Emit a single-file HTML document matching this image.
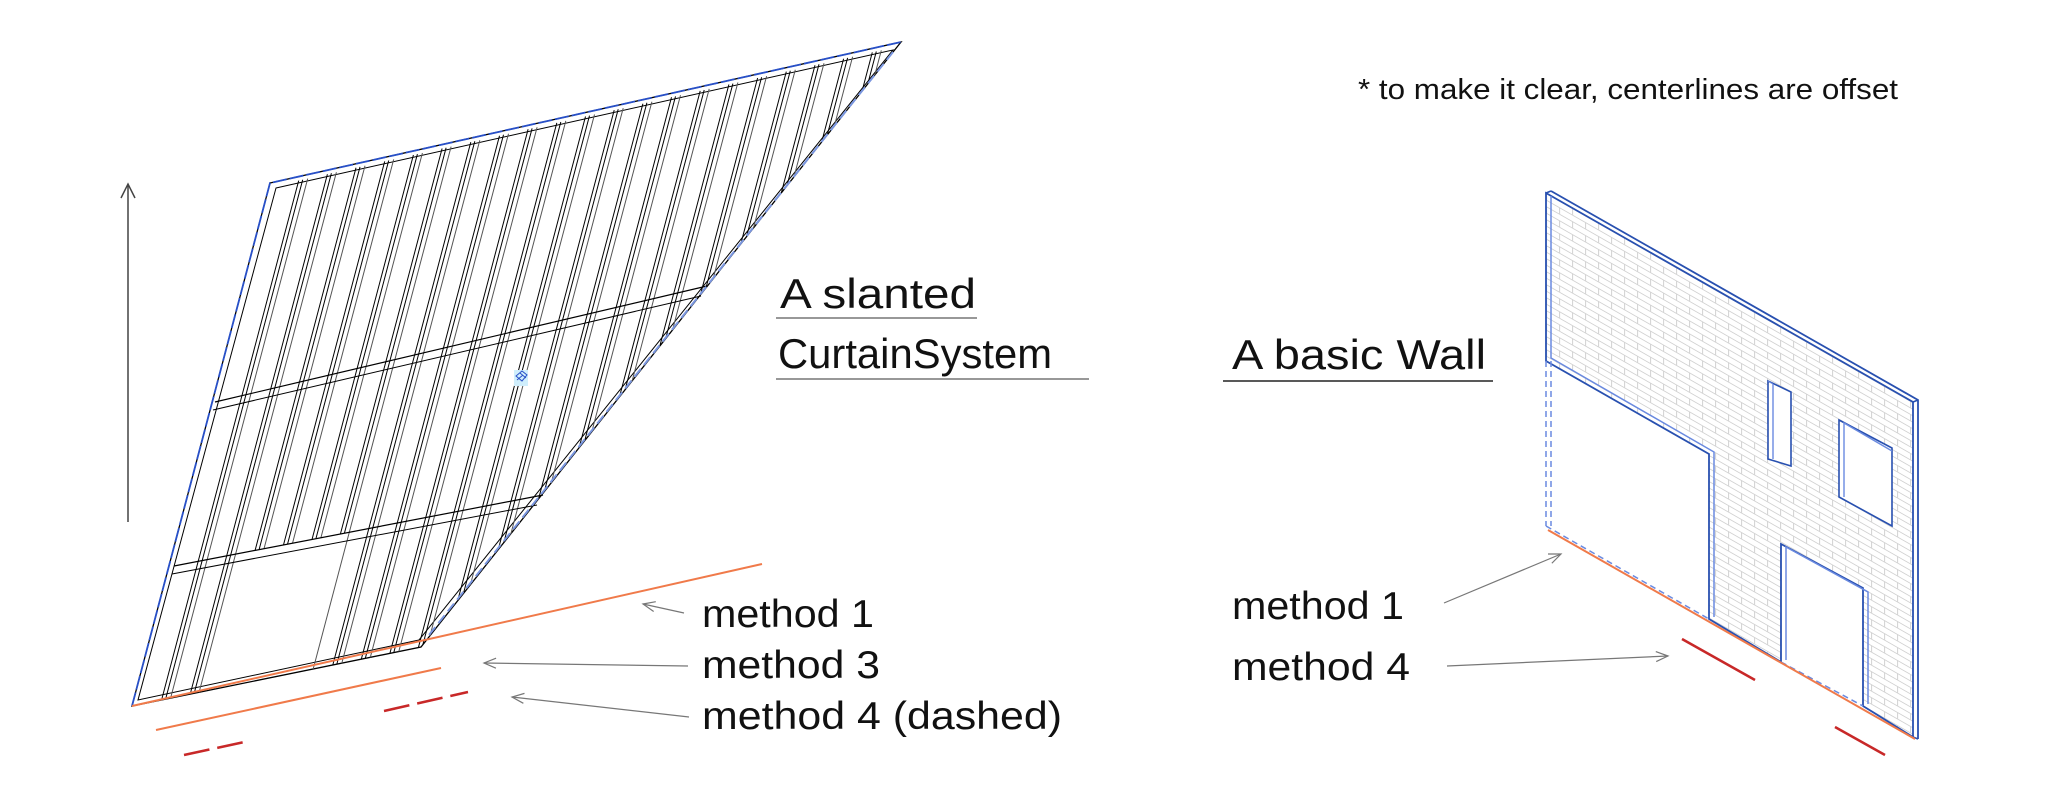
<!DOCTYPE html>
<html><head><meta charset="utf-8"><style>
html,body{margin:0;padding:0;background:#fff;}
body{width:2062px;height:810px;overflow:hidden;position:relative;font-family:"Liberation Sans",sans-serif;}
svg{position:absolute;left:0;top:0;}
</style></head><body>
<svg id="s" width="2062" height="810" viewBox="0 0 2062 810" xmlns="http://www.w3.org/2000/svg">
<defs>
<pattern id="brick" patternUnits="userSpaceOnUse" width="26" height="13" patternTransform="translate(1546,193) skewY(29.7)">
<rect width="26" height="13" fill="#fff"/>
<path d="M0 0.5H26M0 7H26M0.5 0V6.5M13.5 6.5V13" stroke="#d2d2d2" stroke-width="1" fill="none"/>
</pattern>
<marker id="ah" markerWidth="16" markerHeight="12" refX="14" refY="6" orient="auto" markerUnits="userSpaceOnUse">
<path d="M2 1L14 6L2 11" fill="none" stroke="#777" stroke-width="1.2"/>
</marker>
</defs>

<line x1="128" y1="522" x2="128" y2="185" stroke="#444" stroke-width="1.5"/>
<path d="M121 198L128 184L135 198" fill="none" stroke="#444" stroke-width="1.5"/>

<polygon points="270,183 901,42 421,647 132,706" fill="#fff" stroke="#000" stroke-width="1.3"/>
<polygon points="276,188 893,50 419,640 138,700" fill="none" stroke="#000" stroke-width="1"/>
<g id="mull" stroke="#000" stroke-width="1" fill="none"></g>
<line x1="215" y1="402" x2="707" y2="286" stroke="#000" stroke-width="1.2"/>
<line x1="213" y1="410" x2="701" y2="296" stroke="#000" stroke-width="1"/>
<line x1="174" y1="566" x2="543" y2="495" stroke="#000" stroke-width="1.2"/>
<line x1="172" y1="574" x2="537" y2="505" stroke="#000" stroke-width="1"/>
<polyline points="132,706 270,183 901,42" fill="none" stroke="#2850c8" stroke-width="1.8" stroke-dasharray="14,3"/>
<line x1="893" y1="52" x2="425" y2="640" stroke="#7a96e0" stroke-width="2" stroke-dasharray="10,5"/>
<rect x="514" y="370" width="14" height="16" fill="#cfeefc"/>
<path d="M516 376l6-5 5 4-5 6z M520 373l6 5 M517 380l6-5" stroke="#2850c8" stroke-width="1" fill="none"/>

<line x1="132" y1="706" x2="762" y2="564" stroke="#f07a4a" stroke-width="2"/>
<line x1="156" y1="730" x2="441" y2="668" stroke="#f07a4a" stroke-width="2"/>
<line x1="184" y1="755" x2="249" y2="741" stroke="#c82828" stroke-width="2.5" stroke-dasharray="26,8"/>
<line x1="384" y1="711" x2="468" y2="692" stroke="#c82828" stroke-width="2.5" stroke-dasharray="26,8"/>

<line x1="684" y1="613" x2="643" y2="604" stroke="#777" stroke-width="1.2" marker-end="url(#ah)"/>
<line x1="688" y1="666" x2="484" y2="663" stroke="#777" stroke-width="1.2" marker-end="url(#ah)"/>
<line x1="689" y1="717" x2="512" y2="697" stroke="#777" stroke-width="1.2" marker-end="url(#ah)"/>
<line x1="1444" y1="603" x2="1561" y2="554" stroke="#777" stroke-width="1.2" marker-end="url(#ah)"/>
<line x1="1447" y1="666" x2="1668" y2="656" stroke="#777" stroke-width="1.2" marker-end="url(#ah)"/>

<polygon points="1546,193 1913,402 1913,737 1863,706 1863,588 1781,544 1781,662 1709,619 1709,454 1546,361" fill="url(#brick)"/>
<polygon points="1546,193 1913,402 1913,737 1863,706 1863,588 1781,544 1781,662 1709,619 1709,454 1546,361" fill="none" stroke="#2850b0" stroke-width="1.8"/>
<polyline points="1551,191 1918,400 1918,739" fill="none" stroke="#2850b0" stroke-width="1.8"/>
<line x1="1546" y1="193" x2="1551" y2="191" stroke="#2850b0" stroke-width="1.5"/>
<line x1="1913" y1="402" x2="1918" y2="400" stroke="#2850b0" stroke-width="1.5"/>
<line x1="1913" y1="737" x2="1918" y2="739" stroke="#2850b0" stroke-width="1.5"/>
<polyline points="1551,196 1551,358 1714,452 1714,617" fill="none" stroke="#6a8ae0" stroke-width="1.5"/>
<polyline points="1786,660 1786,547 1868,592 1868,704" fill="none" stroke="#6a8ae0" stroke-width="1.5"/>
<polygon points="1768,381 1791,392 1791,466 1768,459" fill="#fff" stroke="#2850b0" stroke-width="1.6"/>
<polyline points="1773,384 1773,459" fill="none" stroke="#6a8ae0" stroke-width="1.4"/>
<line x1="1768" y1="381" x2="1773" y2="384" stroke="#6a8ae0"/>
<polygon points="1839,420 1892,448 1892,526 1839,497" fill="#fff" stroke="#2850b0" stroke-width="1.6"/>
<polyline points="1844,497 1844,423 1892,451" fill="none" stroke="#6a8ae0" stroke-width="1.4"/>
<line x1="1546" y1="361" x2="1546" y2="526" stroke="#6a8ae0" stroke-width="1.5" stroke-dasharray="6,4"/>
<line x1="1551" y1="361" x2="1551" y2="526" stroke="#6a8ae0" stroke-width="1.5" stroke-dasharray="6,4"/>
<line x1="1546" y1="526" x2="1709" y2="619" stroke="#6a8ae0" stroke-width="1.5" stroke-dasharray="6,4"/>
<line x1="1781" y1="662" x2="1863" y2="706" stroke="#6a8ae0" stroke-width="1.5" stroke-dasharray="6,4"/>
<line x1="1548" y1="530" x2="1915" y2="739" stroke="#f07a4a" stroke-width="2"/>
<line x1="1682" y1="639" x2="1755" y2="680" stroke="#c82828" stroke-width="2.5"/>
<line x1="1835" y1="727" x2="1885" y2="755" stroke="#c82828" stroke-width="2.5"/>

<g font-family="Liberation Sans, sans-serif" fill="#111">
<text x="1358" y="99" font-size="29" textLength="540" lengthAdjust="spacingAndGlyphs">* to make it clear, centerlines are offset</text>
<text x="780" y="308" font-size="42" textLength="196" lengthAdjust="spacingAndGlyphs">A slanted</text>
<text x="778" y="368" font-size="42" textLength="274" lengthAdjust="spacingAndGlyphs">CurtainSystem</text>
<text x="1232" y="369" font-size="42" textLength="254" lengthAdjust="spacingAndGlyphs">A basic Wall</text>
<text x="702" y="627" font-size="39" textLength="172" lengthAdjust="spacingAndGlyphs">method 1</text>
<text x="702" y="678" font-size="39" textLength="178" lengthAdjust="spacingAndGlyphs">method 3</text>
<text x="702" y="729" font-size="39" textLength="360" lengthAdjust="spacingAndGlyphs">method 4 (dashed)</text>
<text x="1232" y="619" font-size="39" textLength="172" lengthAdjust="spacingAndGlyphs">method 1</text>
<text x="1232" y="680" font-size="39" textLength="178" lengthAdjust="spacingAndGlyphs">method 4</text>
</g>
<line x1="776" y1="318" x2="977" y2="318" stroke="#777" stroke-width="1.5"/>
<line x1="776" y1="379" x2="1089" y2="379" stroke="#777" stroke-width="1.5"/>
<line x1="1223" y1="381" x2="1493" y2="381" stroke="#222" stroke-width="1.5"/>
</svg>
<script>
(function(){
var g=document.getElementById('mull');
var A=[270,183],B=[901,42],C=[421,647],D=[132,706];
var u=[-138,523];
function inter(P,Q1,Q2){var r=[Q2[0]-Q1[0],Q2[1]-Q1[1]];var den=u[0]*r[1]-u[1]*r[0];if(Math.abs(den)<1e-9)return null;
var w=[Q1[0]-P[0],Q1[1]-P[1]];var s=(w[0]*r[1]-w[1]*r[0])/den;var t=(w[0]*u[1]-w[1]*u[0])/den;if(t<-0.001||t>1.001||s<=0)return null;return s;}
var n=22,out='';
var offs=[0,4,9];
for(var i=1;i<n;i++){
 var f=i/n;
 for(var k=0;k<offs.length;k++){
  var P=[A[0]+f*(B[0]-A[0])+offs[k],A[1]+f*(B[1]-A[1])-offs[k]*0.22+4];
  var s1=inter(P,B,C),s2=inter(P,D,C),s=Math.min(s1||1e9,s2||1e9);
  if(s>1e8)continue;
  var E=[P[0]+u[0]*s,P[1]+u[1]*s];
  var sT=inter(P,[174,566],[543,495]);
  if(sT!==null){var X=[P[0]+u[0]*sT,P[1]+u[1]*sT];
   if(X[0]>245&&X[0]<345){E=X;}}
  out+='<line x1="'+P[0].toFixed(1)+'" y1="'+P[1].toFixed(1)+'" x2="'+E[0].toFixed(1)+'" y2="'+E[1].toFixed(1)+'"'+(k==2?' stroke="#555"':'')+'/>';
 }
}
g.innerHTML=out;
})();
</script>
</body></html>
